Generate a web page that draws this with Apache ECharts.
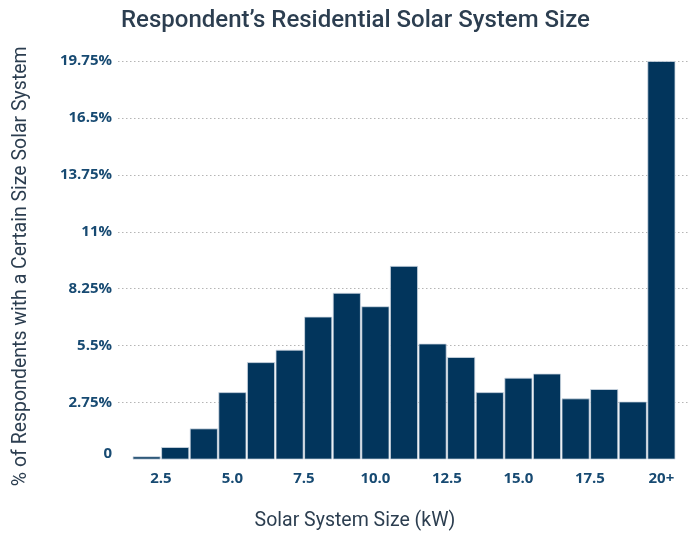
<!DOCTYPE html>
<html>
<head>
<meta charset="utf-8">
<script src="https://cdn.jsdelivr.net/npm/echarts@6/dist/echarts.min.js"></script>
<style>
  html, body { margin: 0; padding: 0; background: #ffffff; }
  #chart { width: 691px; height: 534px; }
</style>
</head>
<body>
<div id="chart"></div>
<script>
// System size bins (kW); the last bin collects everything from 20 kW up
const sizeKw = [2, 3, 4, 5, 6, 7, 8, 9, 10, 11, 12, 13, 14, 15, 16, 17, 18, 19, 20];
// Share of respondents in each bin (%)
const sharePct = [0.15, 0.6, 1.5, 3.25, 4.7, 5.3, 6.9, 8.05, 7.4, 9.35, 5.6, 4.95, 3.25, 3.95, 4.15, 2.95, 3.4, 2.8, 19.25];
// Axis tick values and their printed labels
const xTickValues = [2.5, 5, 7.5, 10, 12.5, 15, 17.5, 20];
const xTickLabels = ['2.5', '5.0', '7.5', '10.0', '12.5', '15.0', '17.5', '20+'];
const yTickLabels = ['0', '2.75%', '5.5%', '8.25%', '11%', '13.75%', '16.5%', '19.75%'];
const yStep = 2.75;

const navy = '#02355c';
const labelColor = '#174a72';
const textColor = '#2c3e50';

const tickFont = { fontFamily: 'Open Sans', fontWeight: 700, fontSize: 15, color: labelColor };

const chart = echarts.init(document.getElementById('chart'));
chart.setOption({
  animation: false,
  backgroundColor: '#ffffff',
  title: {
    text: 'Respondent\u2019s Residential Solar System Size',
    left: 116,
    top: 4,
    textStyle: { fontFamily: 'Roboto', fontWeight: 500, fontSize: 24, color: textColor }
  },
  grid: { left: 118, right: 1, top: 61, bottom: 74.5, containLabel: false },
  xAxis: {
    type: 'value',
    min: 1,
    max: 21,
    axisLine: { show: false },
    axisTick: { show: false },
    splitLine: { show: false },
    axisLabel: Object.assign({
      customValues: xTickValues,
      margin: 12,
      formatter: v => xTickLabels[xTickValues.indexOf(v)]
    }, tickFont)
  },
  yAxis: {
    type: 'value',
    min: 0,
    max: yStep * (yTickLabels.length - 1),
    interval: yStep,
    name: '% of Respondents with a Certain Size Solar System',
    nameLocation: 'middle',
    nameRotate: 90,
    nameGap: 87,
    nameTextStyle: { fontFamily: 'Roboto', fontSize: 19.5, color: textColor, padding: [0, 12, 0, 0] },
    axisLine: { show: false },
    axisTick: { show: false },
    axisLabel: Object.assign({
      margin: 6,
      formatter: v => {
        const i = Math.round(v / yStep);
        return i === 0 ? '{zero|' + yTickLabels[0] + '}' : yTickLabels[i];
      },
      rich: { zero: Object.assign({ padding: [0, 0, 12, 0] }, tickFont) }
    }, tickFont),
    splitLine: {
      show: true,
      showMinLine: false,
      lineStyle: { color: '#b5b5b5', width: 1, type: [1.5, 2.5] }
    }
  },
  graphic: [{
    type: 'text',
    x: 355,
    y: 521,
    style: {
      text: 'Solar System Size (kW)',
      align: 'center',
      verticalAlign: 'middle',
      fontFamily: 'Roboto',
      fontSize: 19.5,
      fill: textColor
    }
  }],
  series: [{
    type: 'bar',
    data: sizeKw.map((k, i) => [k, sharePct[i]]),
    barWidth: 28,
    itemStyle: { color: navy, borderColor: '#d3dce6', borderWidth: 0.8 }
  }]
});
</script>
</body>
</html>
